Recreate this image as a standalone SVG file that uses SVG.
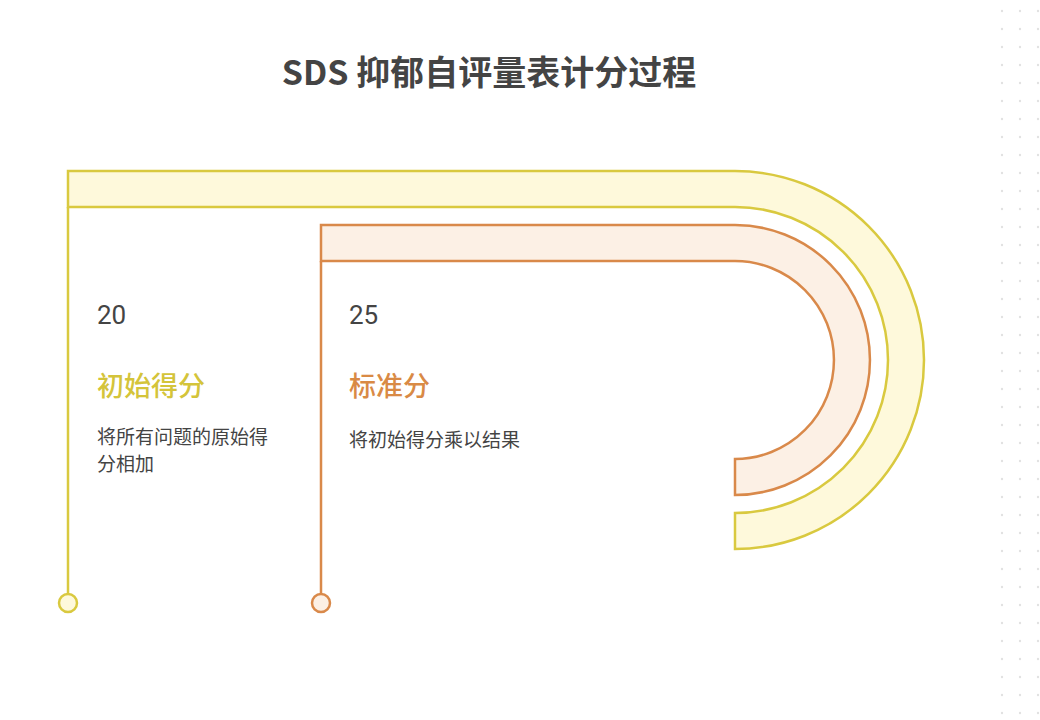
<svg xmlns="http://www.w3.org/2000/svg" width="1040" height="720" viewBox="0 0 1040 720">
<defs>
<pattern id="dots" x="993" y="2" width="18" height="18" patternUnits="userSpaceOnUse"><circle cx="9" cy="9" r="1.2" fill="#e2e2e2"/></pattern>
<style>
.t{font-family:"Noto Sans CJK SC","Noto Sans",sans-serif}
.num{font-family:Roboto,"Noto Sans",sans-serif;font-size:26px;fill:#444}
.h{font-size:27px;font-weight:500}
.d{font-size:19px;fill:#444}
</style>
</defs>
<rect width="1040" height="720" fill="#fff"/>
<rect x="993" y="0" width="47" height="720" fill="url(#dots)"/>
<text class="t" x="489" y="85" text-anchor="middle" font-size="34" font-weight="700" fill="#444">SDS 抑郁自评量表计分过程</text>
<g id="connectors">
<line x1="68" y1="207" x2="68" y2="594" stroke="#d9c93f" stroke-width="2.5"/>
<line x1="321" y1="261" x2="321" y2="594" stroke="#d9894a" stroke-width="2.5"/>
</g>
<g id="node-initial">
<path d="M68,171 H735 A189,189 0 0 1 735,549 V513 A153,153 0 0 0 735,207 H68 Z" fill="#fef9db" stroke="#d9c93f" stroke-width="2.5"/>
<circle cx="68" cy="603" r="9" fill="#fef9db" stroke="#d9c93f" stroke-width="2.5"/>
<text class="num" x="97" y="324">20</text>
<text class="t h" x="97" y="396" fill="#d4c43a">初始得分</text>
<text class="t d" x="97" y="444">将所有问题的原始得</text>
<text class="t d" x="97" y="471">分相加</text>
</g>
<g id="node-standard">
<path d="M321,225 H735 A135,135 0 0 1 735,495 V459 A99,99 0 0 0 735,261 H321 Z" fill="#fcf0e5" stroke="#d9894a" stroke-width="2.5"/>
<circle cx="321" cy="603" r="9" fill="#fcf0e5" stroke="#d9894a" stroke-width="2.5"/>
<text class="num" x="349" y="324">25</text>
<text class="t h" x="349" y="396" fill="#d98a45">标准分</text>
<text class="t d" x="349" y="447">将初始得分乘以结果</text>
</g>
</svg>
